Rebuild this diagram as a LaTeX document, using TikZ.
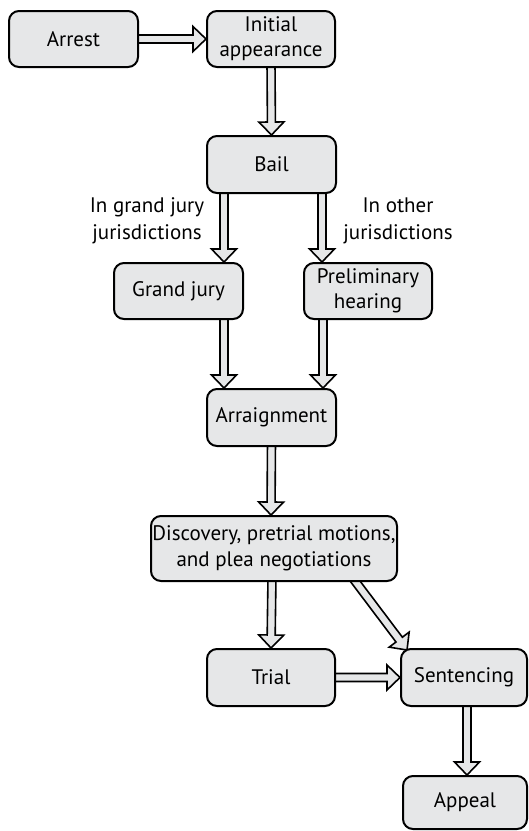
\documentclass[tikz,border=0pt]{standalone}
\usepackage{fontspec}
\setmainfont{PT Sans}
\usetikzlibrary{calc,backgrounds}
\definecolor{boxfill}{HTML}{E6E7E8}
\tikzset{
  box/.style={draw=black, line width=2pt, fill=boxfill, rounded corners=10pt,
    align=center, inner sep=0pt, font=\fontsize{21}{25}\selectfont},
  lbl/.style={align=center, inner sep=0pt, font=\fontsize{21}{27}\selectfont},
  fatline/.style={draw=black, line width=1.6pt, fill=boxfill, line join=miter}
}
% hollow block arrow from #1 to #2 (tip at #2)
\newcommand\fatarrow[2]{%
  \path (#1) coordinate (fa-s) (#2) coordinate (fa-e);
  \path ($(fa-e)!13pt!(fa-s)$) coordinate (fa-m);
  \draw[fatline] ($(fa-s)!4pt!90:(fa-e)$) -- ($(fa-m)!4pt!90:(fa-e)$)
    -- ($(fa-m)!12.5pt!90:(fa-e)$) -- (fa-e) -- ($(fa-m)!12.5pt!-90:(fa-e)$)
    -- ($(fa-m)!4pt!-90:(fa-e)$) -- ($(fa-s)!4pt!-90:(fa-e)$) -- cycle;
}
\begin{document}
\begin{tikzpicture}[x=1pt, y=-1pt]
\useasboundingbox (0,0) rectangle (529,831);

\node[box, minimum width=129pt, minimum height=56pt] (arrest) at (73.5,39) {Arrest};
\node[box, minimum width=128pt, minimum height=56pt] (init) at (271,39) {Initial\\appearance};
\node[box, minimum width=129pt, minimum height=57pt] (bail) at (271.5,164.5) {Bail};
\node[box, minimum width=129pt, minimum height=56pt] (gj) at (178.5,291) {Grand jury};
\node[box, minimum width=128pt, minimum height=56pt] (ph) at (368,291) {Preliminary\\hearing};
\node[box, minimum width=129pt, minimum height=57pt] (arr) at (271.5,417.5) {Arraignment};
\node[box, minimum width=246pt, minimum height=65pt, font=\fontsize{21}{26}\selectfont] (disc) at (274,548.5) {Discovery, pretrial motions,\\and plea negotiations};
\node[box, minimum width=128pt, minimum height=57pt] (trial) at (271,677.5) {Trial};
\node[box, minimum width=126pt, minimum height=57pt] (sent) at (464,677.5) {Sentencing};
\node[box, minimum width=124pt, minimum height=53pt] (appeal) at (465,802.5) {Appeal};

\node[lbl] (lgj) at (147,221) {In grand jury\\jurisdictions};
\node[lbl] (lph) at (398,221) {In other\\jurisdictions};

\begin{scope}[on background layer]
  \fatarrow{$(arrest.east)+(-5,0)$}{init.west}
  \fatarrow{$(init.south)+(0,-5)$}{bail.north}
  \fatarrow{$(bail.south)+(-47.5,-5)$}{$(gj.north)+(45.5,0)$}
  \fatarrow{$(bail.south)+(50.5,-5)$}{$(ph.north)+(-46,0)$}
  \fatarrow{$(gj.south)+(45.5,-5)$}{$(arr.north)+(-47.5,0)$}
  \fatarrow{$(ph.south)+(-45,-5)$}{$(arr.north)+(51.5,0)$}
  \fatarrow{$(arr.south)+(0,-5)$}{$(disc.north)+(-3,0)$}
  \fatarrow{$(disc.south)+(-2,-5)$}{trial.north}
  \fatarrow{$(disc.south)+(78,-5)$}{$(sent.north west)+(7,2)$}
  \fatarrow{$(trial.east)+(-5,0)$}{sent.west}
  \fatarrow{$(sent.south)+(3,-5)$}{$(appeal.north)+(2,0)$}
\end{scope}
\end{tikzpicture}
\end{document}
